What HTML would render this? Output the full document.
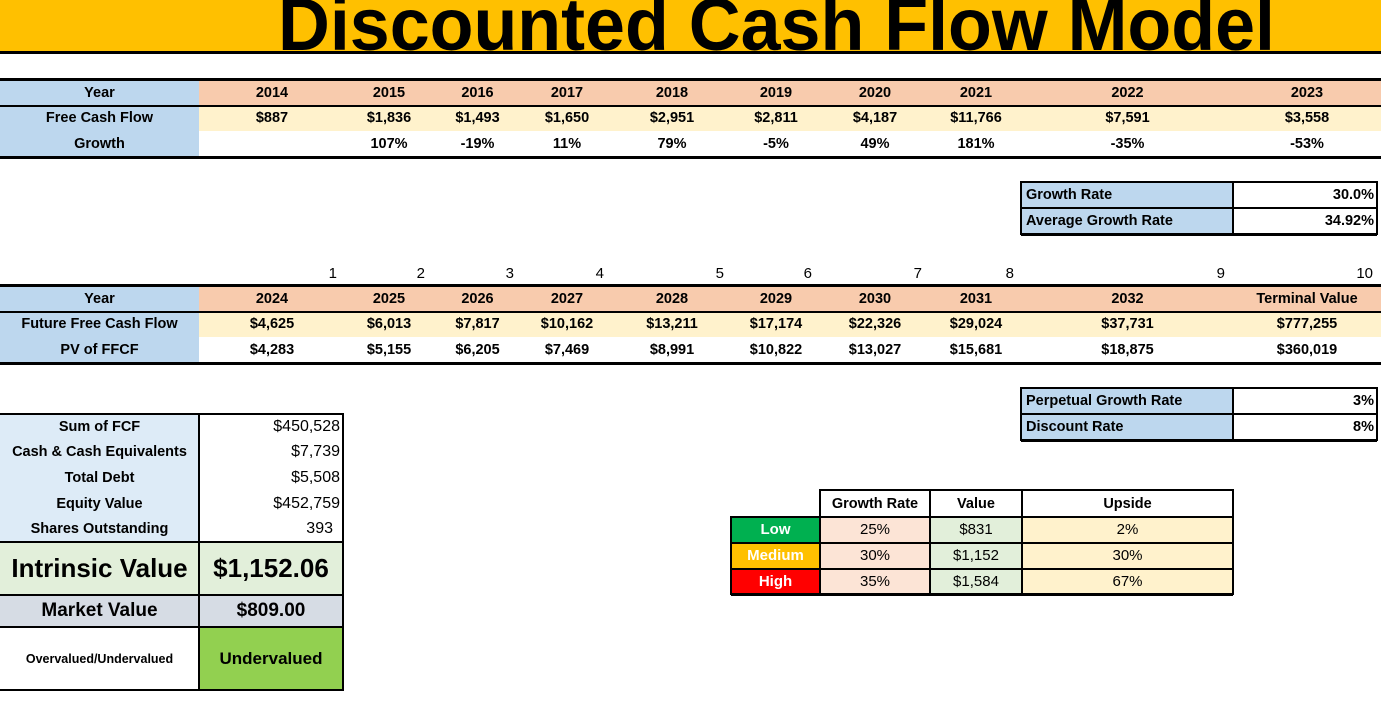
<!DOCTYPE html>
<html><head><meta charset="utf-8">
<style>
html,body{margin:0;padding:0;background:#fff;width:1381px;height:705px;overflow:hidden;position:relative;font-family:"Liberation Sans",Arial,sans-serif;}
.c{position:absolute;box-sizing:border-box;display:flex;align-items:center;white-space:nowrap;color:#000;font-size:14.5px;font-weight:bold;}
.ln{position:absolute;background:#000;}
</style></head>
<body>
<div style="position:absolute;left:0;top:0;width:1381px;height:51px;background:#FFC000;"></div>
<div class="ln" style="left:0;top:51px;width:1381px;height:3px;"></div>
<svg style="position:absolute;left:0;top:0" width="1381" height="52"><text x="278" y="50" textLength="997" lengthAdjust="spacingAndGlyphs" font-family="Liberation Sans, Arial, sans-serif" font-weight="bold" font-size="74">Discounted Cash Flow Model</text></svg>
<div id="root"></div>
<script>
const root=document.getElementById('root');
const cols=[0,199,345,433,522,612,732,820,930,1022,1233,1381];
const years1=['2014','2015','2016','2017','2018','2019','2020','2021','2022','2023'];
const fcf1=['$887','$1,836','$1,493','$1,650','$2,951','$2,811','$4,187','$11,766','$7,591','$3,558'];
const growth1=['','107%','-19%','11%','79%','-5%','49%','181%','-35%','-53%'];
const years2=['2024','2025','2026','2027','2028','2029','2030','2031','2032','Terminal Value'];
const ffcf=['$4,625','$6,013','$7,817','$10,162','$13,211','$17,174','$22,326','$29,024','$37,731','$777,255'];
const pv=['$4,283','$5,155','$6,205','$7,469','$8,991','$10,822','$13,027','$15,681','$18,875','$360,019'];
const idx=['1','2','3','4','5','6','7','8','9','10'];
function cell(x,y,w,h,t,name,st){
  const el=document.createElement('div');
  el.className='c';
  el.style.cssText+=`left:${x}px;top:${y}px;width:${w}px;height:${h}px;justify-content:center;`+(st||'');
  el.textContent=t;
  
  
  root.appendChild(el);
  return el;
}
function line(x,y,w,h,name){
  const el=document.createElement('div');
  el.className='ln';
  el.style.cssText=`left:${x}px;top:${y}px;width:${w}px;height:${h}px;`;
  
  
  root.appendChild(el);
}
function bigTable(top,labels,rows,bgs,pre){
  const rh=25.5;
  for(let r=0;r<3;r++){
    const y=top+r*rh;
    cell(0,y,199,rh,labels[r],pre+'-label-'+r,'background:#BDD7EE;');
    cell(199,y,1182,rh,'',pre+'-row-bg-'+r,'background:'+bgs[r]+';');
    for(let i=0;i<10;i++){
      cell(cols[i+1],y,cols[i+2]-cols[i+1],rh,rows[r][i],pre+'-cell-'+r+'-'+i);
    }
  }
  line(0,top-2,1381,3,pre+'-top-border');
  line(0,top+rh-1,1381,2,pre+'-row-border');
  line(0,top+3*rh-1,1381,3,pre+'-bottom-border');
}
bigTable(80,['Year','Free Cash Flow','Growth'],[years1,fcf1,growth1],['#F8CBAD','#FFF2CC','#fff'],'history');
bigTable(286,['Year','Future Free Cash Flow','PV of FFCF'],[years2,ffcf,pv],['#F8CBAD','#FFF2CC','#fff'],'forecast');
for(let i=0;i<10;i++){
  cell(cols[i+1],261,cols[i+2]-cols[i+1]-8,24,idx[i],'period-index-'+i,'justify-content:flex-end;font-weight:normal;font-size:15px;');
}
function smallTable(top,a,b,name){
  const x0=1021,x1=1233,x2=1377,h=26;
  for(let r=0;r<2;r++){
    cell(x0,top+r*h,x1-x0,h,[a[0],b[0]][r],name+'-label-'+r,'background:#BDD7EE;justify-content:flex-start;padding-left:5px;');
    cell(x1,top+r*h,x2-x1,h,[a[1],b[1]][r],name+'-value-'+r,'justify-content:flex-end;padding-right:3px;');
  }
  line(x0,top-1,x2-x0,2,name+'-b1');line(x0,top+h-1,x2-x0,2,name+'-b2');line(x0,top+2*h-1,x2-x0,3,name+'-b3');
  line(x0-1,top-1,2,2*h+2,name+'-b4');line(x1-1,top-1,2,2*h+2,name+'-b5');line(x2-1,top-1,2,2*h+2,name+'-b6');
}
smallTable(182,['Growth Rate','30.0%'],['Average Growth Rate','34.92%'],'growth-rate-table');
smallTable(388,['Perpetual Growth Rate','3%'],['Discount Rate','8%'],'rate-table');
// left summary
const sumL=['Sum of FCF','Cash & Cash Equivalents','Total Debt','Equity Value','Shares Outstanding'];
const sumV=['$450,528','$7,739','$5,508','$452,759','393'];
for(let i=0;i<5;i++){
  const y=414+i*25.6;
  cell(0,y,199,25.6,sumL[i],'summary-label-'+i,'background:#DDEBF7;');
  cell(199,y,144,25.6,sumV[i],'summary-value-'+i,'justify-content:flex-end;padding-right:'+(i==4?10:3)+'px;font-weight:normal;font-size:16px;');
}
cell(0,542,199,53,'Intrinsic Value','intrinsic-label','background:#E2EFDA;font-size:26px;');
cell(199,542,144,53,'$1,152.06','intrinsic-value','background:#E2EFDA;font-size:26px;');
cell(0,595,199,32,'Market Value','market-label','background:#D6DCE4;font-size:19px;');
cell(199,595,144,32,'$809.00','market-value','background:#D6DCE4;font-size:19px;');
cell(0,627,199,63,'Overvalued/Undervalued','verdict-label','font-size:12.5px;');
cell(199,627,144,63,'Undervalued','verdict-value','background:#92D050;font-size:17px;');
line(0,413,344,2,'sum-top');line(0,541,344,2,'sum-b1');line(0,594,344,2,'sum-b2');line(0,626,344,2,'sum-b3');line(0,689,344,2,'sum-bottom');
line(198,413,2,278,'sum-mid');line(342,413,2,278,'sum-right');
// sensitivity
const scen=['Low','Medium','High'];
const scenBg=['#00B050','#FFC000','#FF0000'];
const sGrowth=['25%','30%','35%'];
const sValue=['$831','$1,152','$1,584'];
const sUp=['2%','30%','67%'];
const sx=[731,820,930,1022,1233];
cell(820,490,110,27,'Growth Rate','sens-head-growth');
cell(930,490,92,27,'Value','sens-head-value');
cell(1022,490,211,27,'Upside','sens-head-upside');
for(let r=0;r<3;r++){
  const y=517+r*25.7;
  cell(731,y,89,25.7,scen[r],'scenario-'+scen[r].toLowerCase(),'background:'+scenBg[r]+';color:#fff;font-size:15px;');
  cell(820,y,110,25.7,sGrowth[r],'sens-growth-'+r,'background:#FCE4D6;font-weight:normal;font-size:15px;');
  cell(930,y,92,25.7,sValue[r],'sens-value-'+r,'background:#E2EFDA;font-weight:normal;font-size:15px;');
  cell(1022,y,211,25.7,sUp[r],'sens-upside-'+r,'background:#FFF2CC;font-weight:normal;font-size:15px;');
}
line(820,489,413,2,'sens-top');
[516,542,568].forEach((y,i)=>line(731,y,502,2,'sens-h'+i));
line(731,593,502,3,'sens-bottom');
line(730,516,2,79,'sens-left');
[820,930,1022,1233].forEach((x,i)=>line(x-1,489,2,106,'sens-v'+i));
</script>
</body></html>
